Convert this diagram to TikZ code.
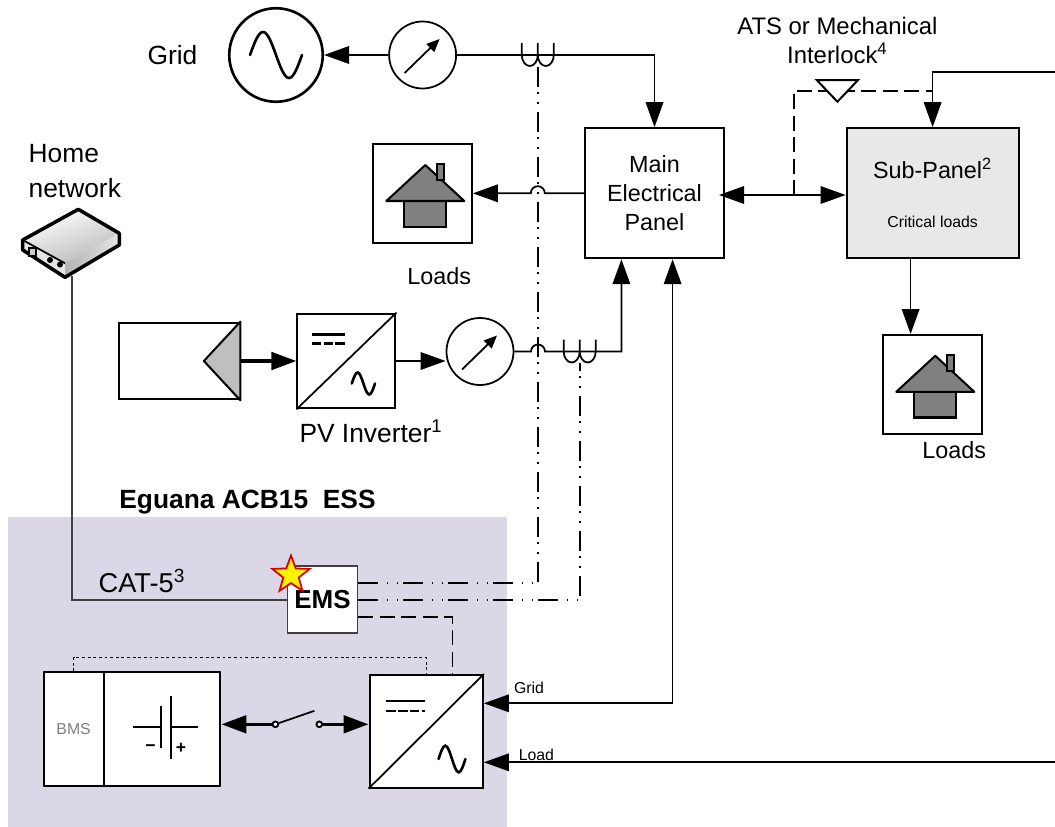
\documentclass[tikz,border=0pt]{standalone}
\usepackage{fontspec}
\setmainfont{Liberation Sans}
\usetikzlibrary{positioning,arrows.meta,shapes.geometric}
\definecolor{essfill}{HTML}{DCD7E6}
\definecolor{subfill}{HTML}{E8E8E8}
\definecolor{roofgray}{HTML}{808080}
\definecolor{pvgray}{HTML}{BFBFBF}
\definecolor{wiregray}{HTML}{404040}
\tikzset{
    box/.style={draw, line width=1.15pt, fill=white, inner sep=0pt},
    lbl/.style={font=\fontsize{13.3}{16.5}\selectfont, align=center, inner sep=0pt},
    biglbl/.style={font=\fontsize{15}{18}\selectfont, align=center, inner sep=0pt},
    small/.style={font=\fontsize{9}{11}\selectfont, inner sep=0pt},
    dial/.style={circle, draw, line width=1pt, fill=white, minimum size=1.34cm, inner sep=0pt},
    power/.style={line width=1pt, -{Triangle[length=5mm,width=3.5mm]}},
    heavy/.style={line width=2pt, -{Triangle[length=5mm,width=3.5mm]}},
    sigline/.style={line width=1pt, dash pattern=on .3cm off .13cm},
    ctrl/.style={line width=1pt, dash pattern=on .4cm off .17cm on .03cm off .17cm on .03cm off .1cm},
    terminal/.style={circle, draw, line width=1pt, fill=white, minimum size=.11cm, inner sep=0pt},
    sine/.pic={\draw[line width=1.5pt, line cap=round] (-1,0) sin (-.5,1) cos (0,0) sin (.5,-1) cos (1,0);},
    needle/.pic={\draw[line width=1pt, -{Triangle[length=2.6mm,width=2.2mm]}] (-.36,-.36) -- (.34,.32);},
    coil/.pic={\draw[line width=1pt] (-.32,.24) -- (-.32,0) arc[start angle=180, end angle=360, x radius=.16, y radius=.22] -- (0,.24) -- (0,0) arc[start angle=180, end angle=360, x radius=.16, y radius=.22] -- (.32,.24);},
    dcbars/.pic={
        \draw[line width=1.4pt] (-.692,.528) -- (-.028,.528);
        \draw[line width=1.4pt, dash pattern=on .19cm off .045cm] (-.692,.354) -- (-.028,.354);
    },
    house/.pic={
        \draw[line width=1.15pt, fill=roofgray] (-.366,-.15) rectangle (.466,-.664);
        \draw[line width=1.15pt, fill=roofgray, line join=round] (-.726,-.15) -- (.054,.57) -- (.834,-.15) -- cycle;
        \draw[line width=1.15pt, fill=roofgray] (.29,.27) rectangle (.424,.584);
    },
    modem/.pic={
        \shade[left color=white, right color=gray!55, shading angle=20] (.126,.686) -- (.946,.206) -- (-.14,-.394) -- (-.986,.072) -- cycle;
        \shade[left color=gray!60, right color=gray!20] (-.14,-.394) -- (.946,.206) -- (.946,-.028) -- (-.14,-.674) -- cycle;
        \fill[gray!20] (-.986,.072) -- (-.14,-.394) -- (-.14,-.674) -- (-.986,-.128) -- cycle;
        \draw[line width=2pt, line join=round] (.126,.686) -- (.946,.206) -- (.946,-.028) -- (-.14,-.674) -- (-.986,-.128) -- (-.986,.072) -- cycle;
        \draw[line width=1pt] (-.986,.072) -- (-.14,-.394);
        \draw[line width=1pt, fill=gray!40] (-.854,-.094) rectangle (-.72,-.248);
        \fill (-.44,-.328) circle (.06);
        \fill (-.24,-.418) circle (.06);
    },
}
\begin{document}
\begin{tikzpicture}[on grid]
    \useasboundingbox (0,0) rectangle (21.1,-16.54);

    \node [draw=none, fill=essfill, minimum width=9.98cm, minimum height=6.206cm, inner sep=0pt] (ess) at (5.15,-13.437) {};
    \node [circle, draw, line width=1.5pt, fill=white, minimum size=1.87cm, inner sep=0pt] (gridsrc) at (5.52,-1.1) {};
    \node [biglbl, left=2.07cm of gridsrc] (gridlbl) {Grid};
    \node [dial, right=2.932cm of gridsrc] (mtra) {};
    \coordinate [right=2.304cm of mtra] (cta);
    \coordinate [below=.22cm of cta] (ctab);
    \node [box, lbl, minimum width=2.78cm, minimum height=2.6cm, below right=2.764cm and 4.638cm of mtra] (main) {Main\\Electrical\\Panel};
    \node [box, minimum width=1.97cm, minimum height=1.97cm, below=2.77cm of mtra] (loadsa) {};
    \node [lbl, below right=1.65cm and .334cm of loadsa] (loadsalbl) {Loads};
    \coordinate (hopa) at (cta |- main);
    \node [box, fill=subfill, minimum width=3.44cm, minimum height=2.6cm, right=5.562cm of main] (sub) {};
    \node [lbl, above=.5cm of sub] (sublbl) {Sub-Panel\textsuperscript{2}};
    \node [small, below=.58cm of sub] (subnote) {Critical loads};
    \coordinate [above left=2.05cm and 1.904cm of sub] (lock);
    \node [lbl, font=\fontsize{13.6}{16.5}\selectfont, above=1cm of lock, anchor=center] (atslbl) {ATS or Mechanical\\Interlock\textsuperscript{4}};
    \coordinate [right=2.784cm of main, yshift=-.036cm] (tap);
    \coordinate (feed) at (21.1,-1.434);
    \node [box, minimum width=1.97cm, minimum height=1.97cm, below=3.822cm of sub] (loadsb) {};
    \node [lbl, below right=1.314cm and .434cm of loadsb] (loadsblbl) {Loads};
    \node [box, minimum width=2.406cm, minimum height=1.532cm, below left=6.12cm and 1.936cm of gridsrc] (pv) {};
    \node [box, minimum width=1.96cm, minimum height=1.894cm, right=3.344cm of pv] (pvinv) {};
    \node [biglbl, below right=1.406cm and .492cm of pvinv] (pvinvlbl) {PV Inverter\textsuperscript{1}};
    \node [dial, right=2.672cm of pvinv, yshift=.19cm] (mtrb) {};
    \coordinate [right=1.16cm of mtrb] (hopb);
    \coordinate [right=1.994cm of mtrb] (ctb);
    \coordinate [below=.22cm of ctb] (ctbb);
    \coordinate (router) at (1.44,-4.872);
    \coordinate [below=.65cm of router] (routerport);
    \node [biglbl, align=left, above right=1.45cm and .056cm of router, anchor=center] (homelbl) {Home\\[2pt]network};
    \node [lbl, font=\fontsize{15}{18}\selectfont\bfseries, above left=3.39cm and .2cm of ess] (esslbl) {Eguana ACB15\ \ ESS};
    \node [box, draw=wiregray, line width=1pt, font=\fontsize{14.8}{18}\selectfont\bfseries, minimum width=1.4cm, minimum height=1.346cm, above right=1.443cm and 1.3cm of ess] (ems) {EMS};
    \node [star, star points=5, star point ratio=2.4, draw=red!85!black, line width=1pt, fill=yellow, minimum size=.78cm, inner sep=0pt, above left=.494cm and .63cm of ems] (alert) {};
    \node [biglbl, font=\fontsize{15.5}{18}\selectfont, above left=.376cm and 3.61cm of ems] (catlbl) {CAT-5\textsuperscript{3}};
    \node [box, minimum width=2.266cm, minimum height=2.254cm, below right=1.189cm and 3.374cm of ess] (conv) {};
    \node [box, small, text=gray, minimum width=1.2cm, minimum height=2.268cm, below left=1.143cm and 3.678cm of ess] (bms) {BMS};
    \node [box, minimum width=2.336cm, minimum height=2.268cm, right=1.768cm of bms] (batt) {};
    \node [below left=.38cm and .232cm of batt, inner sep=0pt, font=\fontsize{10}{12}\selectfont\bfseries] (minus) {−};
    \node [below right=.38cm and .38cm of batt, inner sep=0pt, font=\fontsize{10}{12}\selectfont\bfseries] (plus) {+};
    \node [terminal, right=2.268cm of batt, yshift=.094cm] (swa) {};
    \node [terminal, right=.878cm of swa] (swb) {};
    \coordinate [above right=.27cm and .78cm of swa] (blade);
    \node [small, above right=.86cm and 2.056cm of conv] (gridin) {Grid};
    \node [small, below right=.468cm and 2.204cm of conv] (loadin) {Load};
    \coordinate (loadfeed) at (21.1,-15.246);

    \draw [power] (mtra) -- (gridsrc);
    \draw [power] (mtra.east) -| (main.north);
    \draw [power] (main.west) -- ([xshift=.14cm]hopa) arc[start angle=0, end angle=180, radius=.14] -- (loadsa);
    \draw [line width=1pt, {Triangle[length=5mm,width=3.5mm]}-{Triangle[length=5mm,width=3.5mm]}, shorten <=-.12cm] (main.east |- tap) -- (sub.west |- tap);
    \draw [sigline] (tap) |- (sub.north |- lock);
    \draw [power] (feed) -| (sub.north);
    \draw [power] ([xshift=-.44cm]sub.south) -- ([xshift=-.44cm]sub.south |- loadsb.north);
    \draw [heavy] (pv) -- (pvinv);
    \draw [power] (pvinv.east) -- (pvinv -| mtrb.west);
    \draw [power] (mtrb.east) -- ([xshift=-.14cm]hopb) arc[start angle=180, end angle=0, radius=.14] -| ([xshift=-.662cm]main.south);
    \draw [ctrl] ([yshift=.34cm]ems.east) -| (ctab);
    \draw [ctrl] (ems.east) -| (ctbb);
    \draw [sigline] ([yshift=-.34cm]ems.east) -| ([xshift=.526cm]conv.north);
    \draw [line width=.8pt, dash pattern=on 1.6pt off 1.6pt] (bms.north) -- ++(0,.28) -| (conv.north);
    \draw [line width=1pt, draw=wiregray] (routerport) |- (ems.west);
    \draw [heavy] (swa) -- (swa -| batt.east);
    \draw [heavy] (swb) -- (swb -| conv.west);
    \draw [line width=1pt] (swa) -- (blade);
    \node [terminal] at (swa) {};
    \node [terminal] at (swb) {};
    \draw [line width=1pt, {Triangle[length=5mm,width=3.5mm]}-{Triangle[length=5mm,width=3.5mm]}] ([xshift=.362cm]main.south) |- ([yshift=.56cm]conv.east);
    \draw [power] (loadfeed) -- (loadfeed -| conv.east);

    \draw [line width=1.15pt, fill=white] (lock) +(-.41,.21) -- +(.41,.21) -- +(0,-.22) -- cycle;
    \draw [line width=1.15pt, fill=pvgray, line join=round] (pv.north east) -- ([xshift=-.73cm]pv.east) -- (pv.south east) -- cycle;
    \draw [line width=1pt] (pvinv.south west) -- (pvinv.north east);
    \draw [line width=1pt] (conv.south west) -- (conv.north east);
    \draw [line width=1pt] ([xshift=-.582cm,yshift=.034cm]batt.center) -- ([xshift=-.026cm,yshift=.034cm]batt.center);
    \draw [line width=1pt] ([xshift=-.026cm,yshift=.46cm]batt.center) -- ([xshift=-.026cm,yshift=-.386cm]batt.center);
    \draw [line width=1pt] ([xshift=.174cm,yshift=.666cm]batt.center) -- ([xshift=.174cm,yshift=-.6cm]batt.center);
    \draw [line width=1pt] ([xshift=.174cm,yshift=.034cm]batt.center) -- ([xshift=.72cm,yshift=.034cm]batt.center);

    \pic [xscale=.52, yscale=.46] at (gridsrc) {sine};
    \pic at (mtra) {needle};
    \pic at (mtrb) {needle};
    \pic at (cta) {coil};
    \pic at (ctb) {coil};
    \pic at (loadsa) {house};
    \pic at (loadsb) {house};
    \pic at (pvinv) {dcbars};
    \pic [xscale=.232, yscale=.22] at ([shift={(.34,-.45)}]pvinv.center) {sine};
    \pic [scale=1.15] at (conv) {dcbars};
    \pic [xscale=.268, yscale=.266] at ([shift={(.516,-.554)}]conv.center) {sine};
    \pic at (router) {modem};
\end{tikzpicture}
\end{document}
